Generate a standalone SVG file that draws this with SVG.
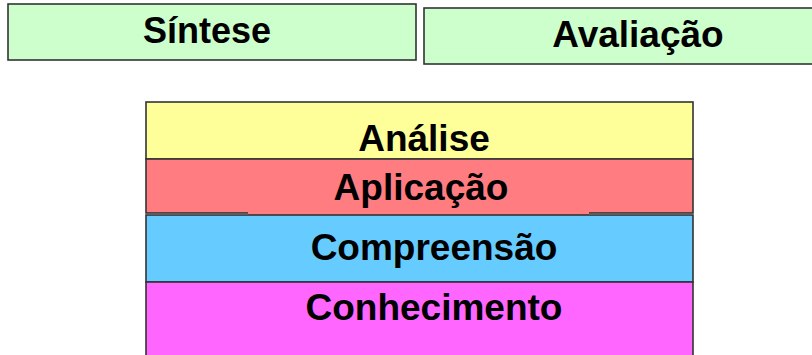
<svg xmlns="http://www.w3.org/2000/svg" width="812" height="355" viewBox="0 0 812 355">
<style>
.box{stroke:#333;stroke-width:1.6}
.lbl{font-family:"Liberation Sans",Arial,sans-serif;font-weight:bold;font-size:37px;fill:#000;text-anchor:middle}
</style>
<rect x="0" y="0" width="812" height="355" fill="#fff"/>
<g id="sintese">
<rect class="box" x="8" y="4" width="408" height="56" fill="#ccffcc"/>
<text class="lbl" x="207" y="43" style="font-size:36px">Síntese</text>
</g>
<g id="avaliacao">
<rect class="box" x="424" y="8" width="390" height="56" fill="#ccffcc"/>
<text class="lbl" x="638" y="47">Avaliação</text>
</g>
<g id="analise">
<rect class="box" x="146" y="102" width="547" height="57" fill="#ffff99"/>
<text class="lbl" x="424" y="151">Análise</text>
</g>
<g id="aplicacao">
<rect class="box" x="146" y="159" width="547" height="54" fill="#ff7c80"/>
<rect x="248" y="208" width="341" height="7" fill="#ff7c80"/>
<text class="lbl" x="421" y="200">Aplicação</text>
</g>
<g id="compreensao">
<rect class="box" x="146" y="215" width="547" height="67" fill="#66ccff"/>
<text class="lbl" x="434" y="260">Compreensão</text>
</g>
<g id="conhecimento">
<rect class="box" x="146" y="282" width="547" height="80" fill="#ff66ff"/>
<text class="lbl" x="434" y="320">Conhecimento</text>
</g>
<g id="connectors"></g>
</svg>
